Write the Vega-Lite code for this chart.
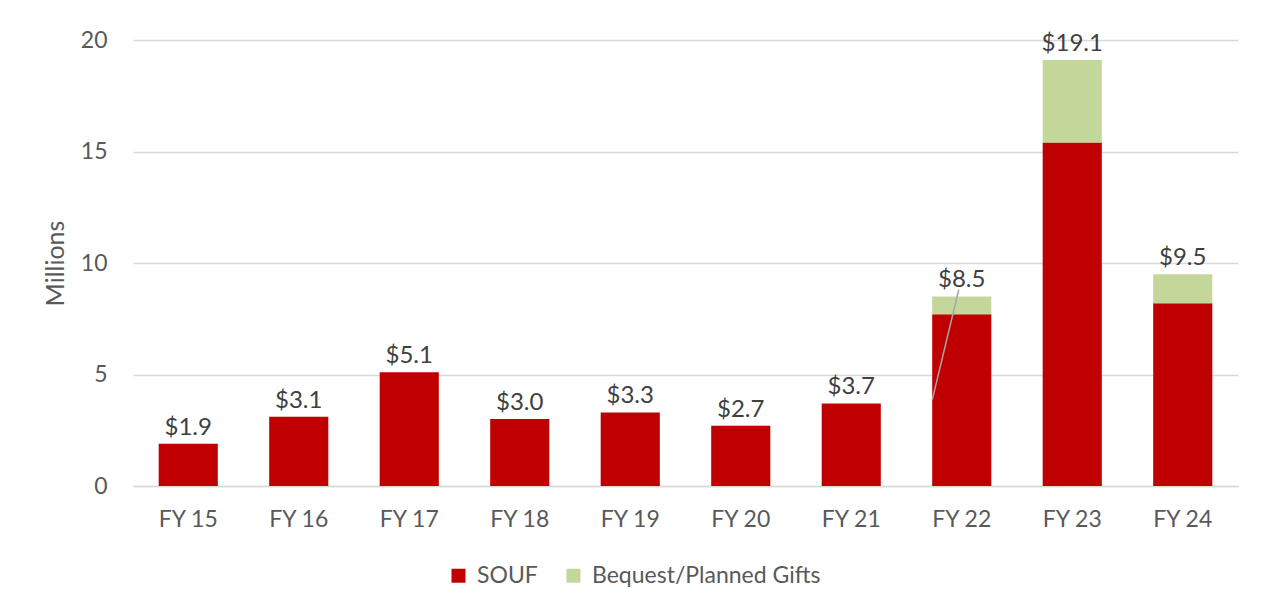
{
  "$schema": "https://vega.github.io/schema/vega-lite/v6.json",
  "width": 1105,
  "height": 446,
  "autosize": {"type": "none"},
  "padding": {"left": 133, "top": 40, "right": 28, "bottom": 122},
  "background": "white",
  "config": {
    "view": {"stroke": null},
    "font": "Lato",
    "axis": {"labelFont": "Lato", "titleFont": "Lato"},
    "legend": {"labelFont": "Lato"}
  },
  "datasets": {
    "gifts": [
      {"fy": "FY 15", "type": "SOUF", "ord": 1, "value": 1.9},
      {"fy": "FY 16", "type": "SOUF", "ord": 1, "value": 3.1},
      {"fy": "FY 17", "type": "SOUF", "ord": 1, "value": 5.1},
      {"fy": "FY 18", "type": "SOUF", "ord": 1, "value": 3.0},
      {"fy": "FY 19", "type": "SOUF", "ord": 1, "value": 3.3},
      {"fy": "FY 20", "type": "SOUF", "ord": 1, "value": 2.7},
      {"fy": "FY 21", "type": "SOUF", "ord": 1, "value": 3.7},
      {"fy": "FY 22", "type": "SOUF", "ord": 1, "value": 7.7},
      {"fy": "FY 23", "type": "SOUF", "ord": 1, "value": 15.4},
      {"fy": "FY 24", "type": "SOUF", "ord": 1, "value": 8.2},
      {"fy": "FY 22", "type": "Bequest/Planned Gifts", "ord": 2, "value": 0.8},
      {"fy": "FY 23", "type": "Bequest/Planned Gifts", "ord": 2, "value": 3.7},
      {"fy": "FY 24", "type": "Bequest/Planned Gifts", "ord": 2, "value": 1.3}
    ],
    "totals": [
      {"fy": "FY 15", "total": 1.9},
      {"fy": "FY 16", "total": 3.1},
      {"fy": "FY 17", "total": 5.1},
      {"fy": "FY 18", "total": 3.0},
      {"fy": "FY 19", "total": 3.3},
      {"fy": "FY 20", "total": 2.7},
      {"fy": "FY 21", "total": 3.7},
      {"fy": "FY 22", "total": 8.5},
      {"fy": "FY 23", "total": 19.1},
      {"fy": "FY 24", "total": 9.5}
    ],
    "leader": [
      {"fy": "FY 22", "y": 3.85, "y2": 8.8}
    ]
  },
  "layer": [
    {
      "data": {"name": "gifts"},
      "mark": {"type": "bar"},
      "encoding": {
        "x": {
          "field": "fy",
          "type": "nominal",
          "sort": null,
          "scale": {"paddingInner": 0.465, "paddingOuter": 0.2325},
          "axis": {
            "title": null,
            "labelAngle": 0,
            "ticks": false,
            "domainColor": "#d9d9d9",
            "domainWidth": 1.5,
            "labelColor": "#595959",
            "labelFontSize": 23,
            "labelPadding": 22
          }
        },
        "y": {
          "field": "value",
          "type": "quantitative",
          "stack": "zero",
          "scale": {"domain": [0, 20], "nice": false},
          "axis": {
            "title": "Millions",
            "titleColor": "#595959",
            "titleFontSize": 25,
            "titleFontWeight": "normal",
            "titlePadding": 12,
            "values": [0, 5, 10, 15, 20],
            "domain": false,
            "ticks": false,
            "gridColor": "#d9d9d9",
            "gridWidth": 1.5,
            "labelColor": "#595959",
            "labelFontSize": 23,
            "labelPadding": 26
          }
        },
        "color": {
          "field": "type",
          "type": "nominal",
          "scale": {"domain": ["SOUF", "Bequest/Planned Gifts"], "range": ["#c00000", "#c4d79b"]},
          "legend": {
            "title": null,
            "orient": "none",
            "direction": "horizontal",
            "legendX": 314,
            "legendY": 524,
            "symbolType": "square",
            "symbolSize": 196,
            "symbolStrokeWidth": 0,
            "labelFontSize": 23,
            "labelColor": "#595959",
            "labelOffset": 7,
            "labelLimit": 500,
            "columnPadding": 24
          }
        },
        "order": {"field": "ord", "type": "quantitative"}
      }
    },
    {
      "data": {"name": "leader"},
      "mark": {"type": "rule", "color": "#a6a6a6", "strokeWidth": 1.5, "x2Offset": -3},
      "encoding": {
        "x": {"field": "fy", "type": "nominal", "sort": null, "bandPosition": 0},
        "x2": {"field": "fy"},
        "y": {"field": "y", "type": "quantitative"},
        "y2": {"field": "y2"}
      }
    },
    {
      "data": {"name": "totals"},
      "mark": {"type": "text", "baseline": "bottom", "dy": -4, "fontSize": 24, "color": "#404040"},
      "encoding": {
        "x": {"field": "fy", "type": "nominal", "sort": null},
        "y": {"field": "total", "type": "quantitative"},
        "text": {"field": "total", "type": "quantitative", "format": "$.1f"}
      }
    }
  ]
}
